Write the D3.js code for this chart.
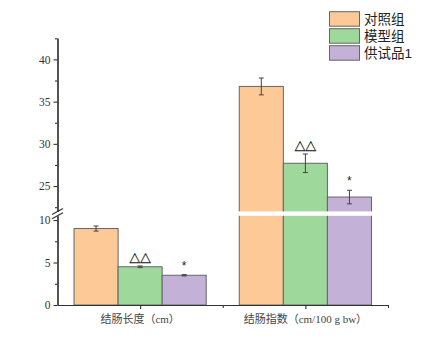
<!DOCTYPE html>
<html><head><meta charset="utf-8">
<script src="https://cdn.jsdelivr.net/npm/d3@7"></script>
<style>body{margin:0;background:#fff}svg{display:block}</style>
</head><body>
<svg id="c" width="429" height="339"></svg>
<script>
const categories = ["结肠长度（cm）", "结肠指数（cm/100 g bw）"];
const groups = ["对照组", "模型组", "供试品1"];
const colors = ["#FDC997", "#9FD89B", "#C3B1D7"];
const values = [[9.0, 4.5, 3.5], [36.8, 27.7, 23.7]];
const errors = [[0.3, 0.1, 0.08], [1.0, 1.1, 0.8]];
const marks = [["", "△△", "*"], ["", "△△", "*"]];
const lowerTicks = [0, 5, 10];
const upperTicks = [25, 30, 35, 40];
const lowerMinor = [2.5, 7.5];
const upperMinor = [22.5, 27.5, 32.5, 37.5, 42.5];

const svg = d3.select("#c");
const axisColor = "#333";

const x = d3.scaleLinear().domain([0.5, 2.5]).range([57.5, 388]);
const yLow = d3.scaleLinear().domain([0, 10.5]).range([305, 215.8]);
const yUp = d3.scaleLinear().domain([22, 42.5]).range([211.4, 38.3]);
const y = v => v <= 10.5 ? yLow(v) : yUp(v);

const step = x(2) - x(1);
const bw = step * 0.8 / 3;

// bars
categories.forEach((c, i) => {
  const cx = x(i + 1);
  groups.forEach((g, j) => {
    const x0 = cx - 1.5 * bw + j * bw;
    const v = values[i][j];
    svg.append("rect")
      .attr("x", x0).attr("y", y(v))
      .attr("width", bw).attr("height", y(0) - y(v))
      .attr("fill", colors[j]).attr("stroke", "#666").attr("stroke-width", 1);
  });
  // break gap across bars
  if (values[i].some(v => v > 10.5)) {
    svg.append("rect")
      .attr("x", cx - 1.5 * bw - 1).attr("y", yUp(22))
      .attr("width", 3 * bw + 2).attr("height", yLow(10.5) - yUp(22))
      .attr("fill", "#fff");
  }
  // error bars & marks
  groups.forEach((g, j) => {
    const mx = cx - bw + j * bw;
    const v = values[i][j], e = errors[i][j];
    const t = y(v + e), b = y(v - e);
    const eg = svg.append("g").attr("stroke", "#444").attr("stroke-width", 1);
    eg.append("line").attr("x1", mx).attr("x2", mx).attr("y1", t).attr("y2", b);
    eg.append("line").attr("x1", mx - 2.5).attr("x2", mx + 2.5).attr("y1", t).attr("y2", t);
    eg.append("line").attr("x1", mx - 2.5).attr("x2", mx + 2.5).attr("y1", b).attr("y2", b);
    const m = marks[i][j];
    if (m === "△△") {
      svg.append("text").attr("x", mx).attr("y", t - 2.5)
        .attr("text-anchor", "middle").attr("font-size", 11)
        .attr("font-family", "'Noto Sans CJK SC'").attr("fill", "#111")
        .attr("stroke", "#111").attr("stroke-width", 0.3).text(m);
    } else if (m === "*") {
      svg.append("text").attr("x", mx).attr("y", t - 5)
        .attr("text-anchor", "middle").attr("font-size", 12)
        .attr("font-family", "'Liberation Sans'").attr("fill", "#222").text(m);
    }
  });
});

// y axes
function styleAxis(g) {
  g.selectAll("path.domain").attr("stroke", axisColor).attr("stroke-width", 1.2);
  g.selectAll(".tick line").attr("stroke", axisColor).attr("stroke-width", 1.1);
  g.selectAll(".tick text").attr("fill", "#333")
    .attr("font-family", "'Liberation Serif'").attr("font-size", 11.5);
}
const gLow = svg.append("g").attr("transform", "translate(57.5,0)")
  .call(d3.axisLeft(yLow).tickValues(lowerTicks).tickSize(4).tickSizeOuter(0).tickPadding(3));
styleAxis(gLow);
const gLowMin = svg.append("g").attr("transform", "translate(57.5,0)")
  .call(d3.axisLeft(yLow).tickValues(lowerMinor).tickSize(2.5).tickSizeOuter(0).tickFormat(""));
styleAxis(gLowMin);
const gUp = svg.append("g").attr("transform", "translate(57.5,0)")
  .call(d3.axisLeft(yUp).tickValues(upperTicks).tickSize(4).tickSizeOuter(0).tickPadding(3));
styleAxis(gUp);
const gUpMin = svg.append("g").attr("transform", "translate(57.5,0)")
  .call(d3.axisLeft(yUp).tickValues(upperMinor).tickSize(2.5).tickSizeOuter(0).tickFormat(""));
styleAxis(gUpMin);

// break marks
const by1 = yUp(22), by2 = yLow(10.5);
[by1, by2].forEach(by => {
  svg.append("line").attr("x1", 52).attr("x2", 63)
    .attr("y1", by + 3).attr("y2", by - 3)
    .attr("stroke", axisColor).attr("stroke-width", 1.1);
});

// x axis
const gx = svg.append("g").attr("transform", "translate(0,305)")
  .call(d3.axisBottom(x).tickValues([1, 2]).tickSize(4).tickSizeOuter(0).tickFormat(""));
gx.selectAll("path.domain").attr("stroke", axisColor).attr("stroke-width", 1.2);
gx.selectAll(".tick line").attr("stroke", axisColor).attr("stroke-width", 1.1);
const gxMin = svg.append("g").attr("transform", "translate(0,305)")
  .call(d3.axisBottom(x).tickValues([1.5, 2.5]).tickSize(3).tickSizeOuter(0).tickFormat(""));
gxMin.selectAll("path.domain").attr("stroke", "none");
gxMin.selectAll(".tick line").attr("stroke", axisColor).attr("stroke-width", 1.1);

categories.forEach((c, i) => {
  svg.append("text").attr("x", x(i + 1)).attr("y", 323)
    .attr("text-anchor", "middle").attr("font-size", 11)
    .attr("font-family", "'Liberation Serif','Noto Sans CJK SC'")
    .attr("fill", "#444").text(c);
});

// legend
groups.forEach((g, j) => {
  const ly = 11.7 + j * 17;
  svg.append("rect").attr("x", 329.5).attr("y", ly).attr("width", 30).attr("height", 14.5)
    .attr("fill", colors[j]).attr("stroke", "#666").attr("stroke-width", 1);
  svg.append("text").attr("x", 364).attr("y", ly + 12)
    .attr("font-size", 13.5).attr("font-family", "'Liberation Sans','Noto Sans CJK SC'")
    .attr("fill", "#222").text(g);
});
</script>
</body></html>
